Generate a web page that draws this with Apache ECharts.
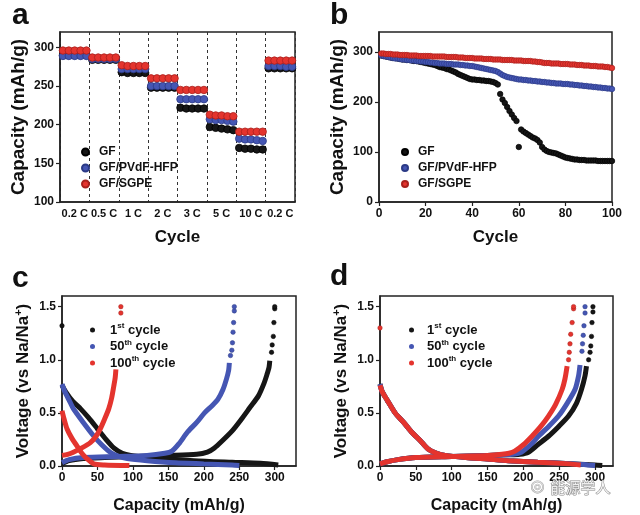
<!DOCTYPE html>
<html><head><meta charset="utf-8">
<script src="https://cdn.jsdelivr.net/npm/echarts@6/dist/echarts.min.js"></script>
<style>html,body{margin:0;padding:0;background:#fff}#c{width:640px;height:515px}</style>
</head><body><div id="c"></div>
<script>
const FONT = 'Arial, "Liberation Sans", Helvetica, sans-serif';

// ---------- Panel a: rate capability ----------
const rateLabels = ['0.2 C', '0.5 C', '1 C', '2 C', '3 C', '5 C', '10 C', '0.2 C'];
const aGF = [290,290,290,290,290, 284,284,284,284,284, 268,267,267,267,267, 248,248,248,248,248,
             222,221,221,221,221, 197,196,195,194,193, 170,169,169,168,168, 273,273,273,273,273];
const aPVDF = [289,289,289,289,289, 285,285,285,285,285, 272,272,272,272,272, 250,250,250,250,250,
               233,233,233,233,233, 207,206,206,205,204, 182,181,181,180,179, 276,276,276,275,275];
const aSGPE = [296,296,296,296,296, 287,287,287,287,287, 277,276,276,276,276, 260,260,260,260,260,
               245,245,245,245,245, 213,212,212,211,211, 191,191,191,191,191, 283,283,283,283,283];

// ---------- Panel b: cycling ----------
const bGF = [293,292,291,290,289,288,288,287,286,285, 285,284,284,283,282,282,281,280,279,278,
             277,276,275,274,272,270,269,268,266,265, 263,261,259,256,254,252,250,248,246,245,
             245,244,244,243,243,242,242,241,240,238, 235,216,205,198,190,182,175,168,162,110,
             145,141,138,135,132,129,127,124,119,110, 105,102,100,99,98,97,95,93,91,89,
             88,87,86,85,85,84,84,84,83,83, 83,83,83,82,82,82,82,82,82,82];
const bPVDF = [293,292,291,290,289,288,287,287,286,285, 285,284,284,283,283,282,282,281,281,280,
               280,279,279,278,278,277,277,277,276,276, 276,275,275,275,274,274,273,273,272,272,
               271,270,269,268,267,266,265,264,263,262, 260,257,254,252,250,249,248,247,246,245,
               245,244,244,243,243,242,242,241,241,240, 240,239,239,238,238,237,237,237,236,236,
               236,235,235,234,234,233,233,232,232,231, 231,230,230,229,229,228,228,227,227,226];
const bSGPE = [297,297,296,296,296,295,295,295,294,294, 294,294,293,293,293,293,292,292,292,292,
               292,292,291,291,291,291,291,291,290,290, 290,290,290,289,289,289,288,288,288,288,
               287,287,287,287,286,286,286,286,285,285, 285,285,284,284,284,284,284,283,283,283,
               283,282,282,282,282,281,281,280,280,279, 278,278,278,277,277,277,277,276,276,276,
               276,275,275,275,274,274,274,273,273,273, 272,272,272,271,271,271,270,270,269,268];

// ---------- Panel c: GF charge/discharge [capacity, voltage] ----------
const c1Dis = [[0,0.76],[5,0.70],[15,0.61],[26,0.54],[38,0.45],[50,0.35],[62,0.25],[73,0.17],[85,0.12],[97,0.10],[130,0.075],[186,0.05],[240,0.035],[280,0.025],[305,0.01]];
const c1Chg = [[0,0.02],[10,0.05],[30,0.07],[60,0.08],[100,0.09],[150,0.10],[190,0.11],[205,0.13],[215,0.17],[225,0.23],[240,0.33],[253,0.44],[265,0.55],[277,0.66],[285,0.78],[289,0.86],[292,0.93],[293,0.99]];
const c1Dots = [[295.5,1.07],[296.4,1.14],[298,1.22],[298.8,1.35],[300,1.48],[300,1.5],[0,1.32]];
const c50Dis = [[0,0.77],[4,0.70],[10,0.62],[16,0.54],[30,0.41],[45,0.28],[56,0.20],[68,0.13],[80,0.09],[92,0.07],[120,0.05],[160,0.03],[200,0.02],[240,0.01],[250,0.005]];
const c50Chg = [[0,0.03],[10,0.06],[30,0.08],[80,0.09],[120,0.10],[145,0.12],[155,0.14],[165,0.21],[177,0.32],[190,0.41],[201,0.50],[212,0.57],[220,0.63],[227,0.72],[232,0.82],[235,0.90],[236,0.97]];
const c50Dots = [[237.6,1.04],[239.5,1.09],[240.4,1.16],[241.2,1.26],[242,1.35],[243,1.46],[243,1.5]];
const c100Dis = [[0,0.52],[3,0.44],[7,0.35],[14,0.26],[21,0.19],[28,0.12],[35,0.07],[45,0.02],[60,0.01],[95,0.005]];
const c100Chg = [[0,0.10],[8,0.11],[16,0.13],[28,0.17],[40,0.22],[48,0.28],[54,0.35],[60,0.44],[66,0.54],[70,0.64],[73,0.75],[75,0.83],[76,0.91]];
const c100Dots = [[83,1.44],[83,1.5]];

// ---------- Panel d: GF/SGPE charge/discharge ----------
const d1Dis = [[0,0.77],[3,0.70],[10,0.62],[21,0.50],[33,0.41],[44,0.32],[56,0.24],[67,0.16],[79,0.12],[91,0.10],[120,0.08],[150,0.065],[179,0.05],[220,0.035],[272,0.02],[300,0.01],[310,0.005]];
const d1Chg = [[0,0.02],[10,0.04],[25,0.06],[50,0.08],[100,0.09],[150,0.10],[180,0.105],[195,0.11],[207,0.13],[220,0.20],[235,0.28],[249,0.37],[263,0.47],[274,0.59],[281,0.72],[286,0.85],[288,0.94]];
const d1Dots = [[291,1.0],[293,1.07],[294,1.13],[295,1.22],[295.7,1.35],[297,1.45],[297,1.5]];
const d50Dis = [[0,0.77],[3,0.70],[10,0.62],[21,0.50],[33,0.41],[44,0.32],[56,0.24],[67,0.16],[79,0.12],[91,0.10],[120,0.08],[150,0.065],[179,0.05],[220,0.035],[272,0.02],[290,0.01],[300,0.005]];
const d50Chg = [[0,0.02],[10,0.04],[25,0.06],[50,0.08],[100,0.09],[150,0.10],[175,0.105],[185,0.11],[197,0.13],[210,0.20],[221,0.28],[235,0.37],[249,0.47],[261,0.59],[272,0.72],[277,0.85],[279,0.95]];
const d50Dots = [[281.7,1.08],[282.5,1.15],[283.5,1.23],[284.5,1.32],[286,1.44],[286,1.5]];
const d100Dis = [[0,0.76],[3,0.70],[10,0.62],[21,0.50],[33,0.41],[44,0.32],[56,0.24],[67,0.16],[79,0.12],[91,0.10],[120,0.08],[150,0.065],[179,0.05],[220,0.035],[265,0.02],[280,0.01]];
const d100Chg = [[0,0.02],[10,0.04],[25,0.06],[50,0.08],[100,0.09],[150,0.10],[170,0.11],[180,0.12],[188,0.14],[200,0.20],[212,0.28],[224,0.37],[235,0.47],[245,0.58],[254,0.72],[258,0.82],[261,0.94]];
const d100Dots = [[263,1.0],[264,1.07],[265,1.15],[266,1.24],[268,1.35],[270,1.48],[270,1.5],[0,1.30]];

const K = '#161616', B = '#4556b3', R = '#e4342e';
const KB = '#000', BB = '#2b3a86', RB = '#a8201c';

const chart = echarts.init(document.getElementById('c'));

const tickLabel = {fontFamily: FONT, fontWeight: 'bold', fontSize: 12, color: '#111'};
const nameStyle = (size) => ({fontFamily: FONT, fontWeight: 'bold', fontSize: size, color: '#111'});
const axLine = {show: true, lineStyle: {color: '#222', width: 1.5}};
const axTick = {show: true, inside: false, length: 4, lineStyle: {color: '#222', width: 1.2}};

const grids = [
  {left: 60, top: 32, width: 235, height: 170},
  {left: 379, top: 32, width: 233, height: 170},
  {left: 62, top: 296, width: 234, height: 171},
  {left: 380, top: 296, width: 233, height: 171}
].map(g => Object.assign({show: true, borderColor: '#222', borderWidth: 1.5, backgroundColor: '#fff'}, g));

const voltName = '{t|Voltage (vs Na/Na}{s|+}{t|)}';
const voltRich = {
  t: {fontFamily: FONT, fontWeight: 'bold', fontSize: 17, color: '#111', lineHeight: 20},
  s: {fontFamily: FONT, fontWeight: 'bold', fontSize: 11, color: '#111', verticalAlign: 'top', lineHeight: 11}
};

const xAxis = [
  {gridIndex: 0, type: 'value', min: 0, max: 40, show: false},
  {gridIndex: 0, type: 'category', data: rateLabels, boundaryGap: true, position: 'bottom',
   axisLine: axLine, axisTick: {show: false},
   axisLabel: Object.assign({}, tickLabel, {fontSize: 11, margin: 6, interval: 0}),
   splitLine: {show: true, interval: 0, lineStyle: {color: '#333', width: 1, type: [3, 3]}},
   name: 'Cycle', nameLocation: 'middle', nameGap: 27, nameTextStyle: nameStyle(17)},
  {gridIndex: 1, type: 'value', min: 0, max: 100, interval: 20,
   axisLine: axLine, axisTick: axTick, splitLine: {show: false},
   axisLabel: Object.assign({}, tickLabel, {margin: 6}),
   name: 'Cycle', nameLocation: 'middle', nameGap: 27, nameTextStyle: nameStyle(17)},
  {gridIndex: 2, type: 'value', min: 0, max: 330, interval: 50,
   axisLine: axLine, axisTick: axTick, splitLine: {show: false},
   axisLabel: Object.assign({}, tickLabel, {margin: 6, showMaxLabel: false}),
   name: 'Capacity (mAh/g)', nameLocation: 'middle', nameGap: 32, nameTextStyle: nameStyle(16)},
  {gridIndex: 3, type: 'value', min: 0, max: 325, interval: 50,
   axisLine: axLine, axisTick: axTick, splitLine: {show: false},
   axisLabel: Object.assign({}, tickLabel, {margin: 6, showMaxLabel: false}),
   name: 'Capacity (mAh/g)', nameLocation: 'middle', nameGap: 32, nameTextStyle: nameStyle(16)}
];

const yAxis = [
  {gridIndex: 0, type: 'value', min: 100, max: 320, interval: 50,
   axisLine: axLine, axisTick: axTick, splitLine: {show: false},
   axisLabel: Object.assign({}, tickLabel, {margin: 6, showMaxLabel: false}),
   name: 'Capacity (mAh/g)', nameLocation: 'middle', nameGap: 32, nameTextStyle: nameStyle(19)},
  {gridIndex: 1, type: 'value', min: 0, max: 340, interval: 100,
   axisLine: axLine, axisTick: axTick, splitLine: {show: false},
   axisLabel: Object.assign({}, tickLabel, {margin: 6, showMaxLabel: false}),
   name: 'Capacity (mAh/g)', nameLocation: 'middle', nameGap: 32, nameTextStyle: nameStyle(19)},
  {gridIndex: 2, type: 'value', min: 0, max: 1.6, interval: 0.5,
   axisLine: axLine, axisTick: axTick, splitLine: {show: false},
   axisLabel: Object.assign({}, tickLabel, {margin: 6, showMaxLabel: false, formatter: v => v.toFixed(1)}),
   name: voltName, nameLocation: 'middle', nameGap: 29, nameTextStyle: {rich: voltRich}},
  {gridIndex: 3, type: 'value', min: 0, max: 1.6, interval: 0.5,
   axisLine: axLine, axisTick: axTick, splitLine: {show: false},
   axisLabel: Object.assign({}, tickLabel, {margin: 6, showMaxLabel: false, formatter: v => v.toFixed(1)}),
   name: voltName, nameLocation: 'middle', nameGap: 29, nameTextStyle: {rich: voltRich}}
];

function rateSeries(name, vals, color, border) {
  return {type: 'scatter', name, xAxisIndex: 0, yAxisIndex: 0, symbolSize: 7.5,
    itemStyle: {color, borderColor: border, borderWidth: 0.8, opacity: 1},
    data: vals.map((v, i) => [i + 0.5, v])};
}
function cycSeries(name, vals, color, border) {
  return {type: 'scatter', name, xAxisIndex: 2, yAxisIndex: 1, symbolSize: 5.5,
    itemStyle: {color, borderColor: border, borderWidth: 0.7, opacity: 1},
    data: vals.map((v, i) => [i + 1, v])};
}
function curve(name, pts, color, xi, yi) {
  return {type: 'line', name, xAxisIndex: xi, yAxisIndex: yi, data: pts, smooth: 0.25,
    symbol: 'circle', showSymbol: false, lineStyle: {color, width: 5}, itemStyle: {color}};
}
function dots(name, pts, color, border, xi, yi) {
  return {type: 'scatter', name, xAxisIndex: xi, yAxisIndex: yi, data: pts, symbolSize: 4.5,
    itemStyle: {color, borderColor: border, borderWidth: 0.5, opacity: 1}};
}

const series = [
  rateSeries('GF', aGF, K, KB), rateSeries('GF/PVdF-HFP', aPVDF, B, BB), rateSeries('GF/SGPE', aSGPE, R, RB),
  cycSeries('GF', bGF, K, KB), cycSeries('GF/PVdF-HFP', bPVDF, B, BB), cycSeries('GF/SGPE', bSGPE, R, RB),
  curve('1st cycle', c1Dis, K, 3, 2), curve('1st cycle', c1Chg, K, 3, 2), dots('1st cycle', c1Dots, K, KB, 3, 2),
  curve('50th cycle', c50Dis, B, 3, 2), curve('50th cycle', c50Chg, B, 3, 2), dots('50th cycle', c50Dots, B, BB, 3, 2),
  curve('100th cycle', c100Dis, R, 3, 2), curve('100th cycle', c100Chg, R, 3, 2), dots('100th cycle', c100Dots, R, RB, 3, 2),
  curve('1st cycle', d1Dis, K, 4, 3), curve('1st cycle', d1Chg, K, 4, 3), dots('1st cycle', d1Dots, K, KB, 4, 3),
  curve('50th cycle', d50Dis, B, 4, 3), curve('50th cycle', d50Chg, B, 4, 3), dots('50th cycle', d50Dots, B, BB, 4, 3),
  curve('100th cycle', d100Dis, R, 4, 3), curve('100th cycle', d100Chg, R, 4, 3), dots('100th cycle', d100Dots, R, RB, 4, 3)
];

const legNames1 = ['GF', 'GF/PVdF-HFP', 'GF/SGPE'];
const legNames2 = ['1st cycle', '50th cycle', '100th cycle'];
const legBase = {orient: 'vertical', icon: 'circle', itemWidth: 7, itemHeight: 7, itemGap: 2, selectedMode: false,
  textStyle: {fontFamily: FONT, fontWeight: 'bold', fontSize: 12, color: '#111', lineHeight: 14, padding: [0, 0, 0, 5]}};
const supRich = {
  n: {fontFamily: FONT, fontWeight: 'bold', fontSize: 13, color: '#111', lineHeight: 16},
  s: {fontFamily: FONT, fontWeight: 'bold', fontSize: 8, color: '#111', verticalAlign: 'top', lineHeight: 8}
};
const supFmt = (name) => {
  const m = name.match(/^(\d+)(st|th)(.*)$/);
  return '{n|' + m[1] + '}{s|' + m[2] + '}{n|' + m[3] + '}';
};
const legend = [
  Object.assign({}, legBase, {left: 76, top: 140, data: legNames1}),
  Object.assign({}, legBase, {left: 396, top: 140, itemWidth: 6, itemHeight: 6, data: legNames1}),
  Object.assign({}, legBase, {left: 85, top: 317, itemWidth: 5, itemHeight: 5, itemGap: 2, data: legNames2, formatter: supFmt,
    textStyle: {rich: supRich, padding: [0, 0, 0, 10]}}),
  Object.assign({}, legBase, {left: 404, top: 317, itemWidth: 5, itemHeight: 5, itemGap: 2, data: legNames2, formatter: supFmt,
    textStyle: {rich: supRich, padding: [0, 0, 0, 8]}})
];

const letter = (t, x, y) => ({type: 'text', left: x, top: y, z: 100,
  style: {text: t, font: 'bold 30px ' + FONT, fill: '#111'}});

chart.setOption({
  animation: false,
  backgroundColor: '#fff',
  grid: grids,
  xAxis, yAxis, series, legend,
  graphic: [
    letter('a', 12, 1), letter('b', 330, 1), letter('c', 12, 264), letter('d', 330, 262),
    {type: 'text', left: 550, top: 479, z: 100,
     style: {text: '能源学人', font: '15px "Noto Sans CJK SC"', fill: 'rgba(255,255,255,0.85)', stroke: '#888', lineWidth: 1}},
    {type: 'text', left: 530, top: 478, z: 100,
     style: {text: '◎', font: '16px "DejaVu Sans"', fill: 'rgba(255,255,255,0.6)', stroke: '#999', lineWidth: 0.8}}
  ]
});
</script></body></html>
